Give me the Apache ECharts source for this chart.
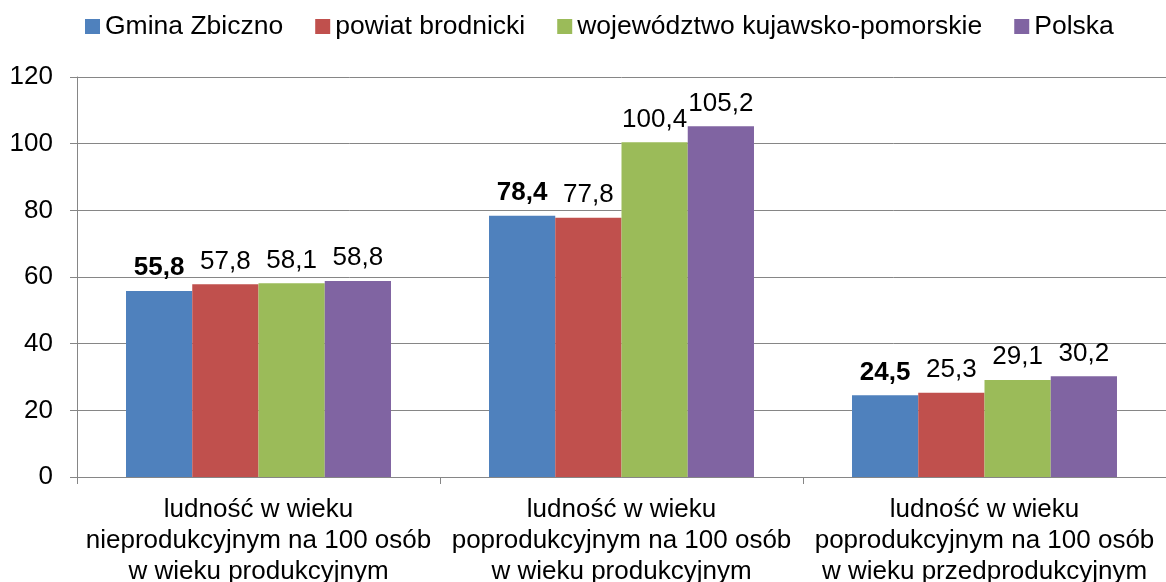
<!DOCTYPE html>
<html>
<head>
<meta charset="utf-8">
<script src="https://cdn.jsdelivr.net/npm/echarts@6/dist/echarts.min.js"></script>
<style>
  html, body { margin: 0; padding: 0; background: #fff; }
  #chart { width: 1166px; height: 582px; }
</style>
</head>
<body>
<div id="chart"></div>
<script>
var categories = [
  'ludność w wieku\nnieprodukcyjnym na 100 osób\nw wieku produkcyjnym',
  'ludność w wieku\npoprodukcyjnym na 100 osób\nw wieku produkcyjnym',
  'ludność w wieku\npoprodukcyjnym na 100 osób\nw wieku przedprodukcyjnym'
];
var seriesNames = ['Gmina Zbiczno', 'powiat brodnicki', 'województwo kujawsko-pomorskie', 'Polska'];
var gminaData = [55.8, 78.4, 24.5];
var powiatData = [57.8, 77.8, 25.3];
var wojData = [58.1, 100.4, 29.1];
var polskaData = [58.8, 105.2, 30.2];
var colors = ['#4F81BD', '#C0504D', '#9BBB59', '#8064A2'];

var font = '"Liberation Sans", Arial, sans-serif';

function fmt(p) {
  return p.value.toFixed(1).replace('.', ',');
}

function makeSeries(name, data, color, bold) {
  return {
    name: name,
    type: 'bar',
    data: data,
    barGap: '0%',
    barCategoryGap: '27%',
    itemStyle: { color: color },
    label: {
      show: true,
      position: 'top',
      distance: 10,
      color: '#000',
      fontSize: 26,
      fontFamily: font,
      fontWeight: bold ? 'bold' : 'normal',
      formatter: fmt
    }
  };
}

var myChart = echarts.init(document.getElementById('chart'));
var option = {
  animation: false,
  textStyle: { fontFamily: font },
  legend: {
    top: 8,
    left: 80,
    itemWidth: 15,
    itemHeight: 15,
    itemGap: 32,
    icon: 'rect',
    textStyle: { fontSize: 26.5, color: '#000', fontFamily: font },
    data: seriesNames
  },
  grid: {
    left: 77,
    right: 0,
    top: 77,
    bottom: 105,
    containLabel: false,
    outerBoundsMode: 'none'
  },
  xAxis: {
    type: 'category',
    data: categories,
    axisLine: { lineStyle: { color: '#868686', width: 1 } },
    axisTick: { show: true, length: 7, lineStyle: { color: '#868686' } },
    axisLabel: {
      color: '#000',
      fontSize: 26,
      fontFamily: font,
      lineHeight: 31,
      margin: 17,
      interval: 0
    }
  },
  yAxis: {
    type: 'value',
    min: 0,
    max: 120,
    interval: 20,
    axisLine: { show: true, lineStyle: { color: '#868686', width: 1 } },
    axisTick: { show: true, length: 7, lineStyle: { color: '#868686' } },
    splitLine: { show: true, lineStyle: { color: '#868686', width: 1 } },
    axisLabel: {
      color: '#000',
      fontSize: 26,
      fontFamily: font,
      margin: 24
    }
  },
  series: [
    makeSeries(seriesNames[0], gminaData, colors[0], true),
    makeSeries(seriesNames[1], powiatData, colors[1], false),
    makeSeries(seriesNames[2], wojData, colors[2], false),
    makeSeries(seriesNames[3], polskaData, colors[3], false)
  ]
};
myChart.setOption(option);
window.addEventListener('resize', function () {
  myChart.resize();
});
</script>
</body>
</html>
